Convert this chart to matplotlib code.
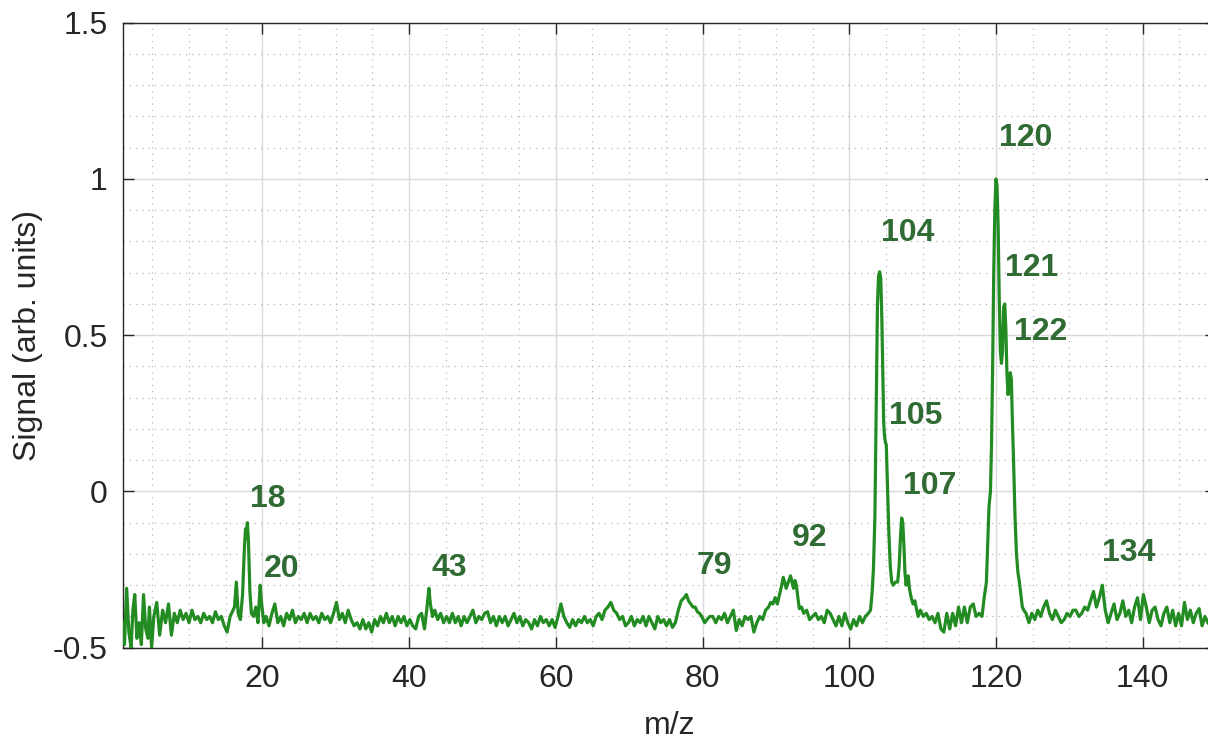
import numpy as np
import matplotlib
matplotlib.use("Agg")
import matplotlib.pyplot as plt
from matplotlib.ticker import MultipleLocator, FixedLocator

plt.rcParams['font.family'] = ['Liberation Sans', 'DejaVu Sans']

# ---------------- data ----------------
# start of trace (strong ringing)
mz_start = [1.0, 1.2, 1.5, 1.8, 2.1, 2.35, 2.6, 2.9, 3.2, 3.5, 3.8, 4.1, 4.4, 4.6, 4.9]
sig_start = [-0.42, -0.49, -0.31, -0.45, -0.50, -0.38, -0.33, -0.47, -0.42, -0.49,
             -0.33, -0.44, -0.47, -0.37, -0.50]

# baseline 5.2 .. 16.0, step 0.4
base_a_start = 5.2
base_a = [-0.40, -0.355, -0.46, -0.38, -0.42, -0.36, -0.46, -0.39, -0.42, -0.38,
          -0.41, -0.39, -0.42, -0.38, -0.41, -0.40, -0.42, -0.39, -0.41, -0.40,
          -0.42, -0.385, -0.41, -0.40, -0.43, -0.45, -0.40, -0.38]

# peaks 18 / 20
mz_p18 = [16.2, 16.45, 16.7, 17.0, 17.3, 17.55, 17.7, 17.8, 17.95, 18.1, 18.3, 18.5,
          18.8, 19.1, 19.4, 19.7, 19.9, 20.2]
sig_p18 = [-0.37, -0.29, -0.39, -0.41, -0.33, -0.18, -0.12, -0.15, -0.10, -0.16, -0.32,
           -0.39, -0.40, -0.37, -0.42, -0.30, -0.36, -0.42]

# baseline 20.5 .. 42.1, step 0.4
base_b_start = 20.5
base_b = [-0.40, -0.43, -0.39, -0.36, -0.42, -0.40, -0.43, -0.39, -0.41, -0.38,
          -0.42, -0.40, -0.41, -0.39, -0.42, -0.39, -0.41, -0.40, -0.42, -0.39,
          -0.41, -0.40, -0.42, -0.39, -0.355, -0.41, -0.39, -0.42, -0.38, -0.41,
          -0.43, -0.42, -0.44, -0.41, -0.44, -0.42, -0.45, -0.41, -0.43, -0.40,
          -0.42, -0.39, -0.42, -0.40, -0.43, -0.40, -0.42, -0.40, -0.43, -0.41,
          -0.43, -0.44, -0.40, -0.39, -0.44]

# peak 43
mz_p43 = [42.4, 42.7, 42.9, 43.2]
sig_p43 = [-0.38, -0.31, -0.36, -0.40]

# baseline 43.5 .. 76.7, step 0.4
base_c_start = 43.5
base_c = [-0.38, -0.41, -0.39, -0.42, -0.40, -0.42, -0.39, -0.42, -0.40, -0.43,
          -0.40, -0.42, -0.40, -0.38, -0.42, -0.40, -0.41, -0.39, -0.385, -0.42,
          -0.40, -0.43, -0.40, -0.42, -0.40, -0.43, -0.41, -0.39, -0.42, -0.40,
          -0.43, -0.41, -0.42, -0.44, -0.41, -0.43, -0.40, -0.42, -0.41, -0.43,
          -0.41, -0.435, -0.40, -0.36, -0.40, -0.42, -0.435, -0.41, -0.43, -0.41,
          -0.42, -0.40, -0.42, -0.41, -0.43, -0.40, -0.39, -0.41, -0.38, -0.37,
          -0.355, -0.38, -0.39, -0.41, -0.40, -0.43, -0.42, -0.40, -0.43, -0.41,
          -0.42, -0.40, -0.43, -0.40, -0.42, -0.44, -0.40, -0.42, -0.41, -0.43,
          -0.41, -0.435, -0.42, -0.38]

# peak 79
mz_p79 = [77.1, 77.5, 77.8, 78.1, 78.4, 78.7, 79.0, 79.3, 79.6, 79.9, 80.3]
sig_p79 = [-0.35, -0.34, -0.33, -0.35, -0.36, -0.37, -0.37, -0.385, -0.39, -0.40, -0.42]

# baseline 80.6 .. 88.6, step 0.4
base_d_start = 80.6
base_d = [-0.41, -0.40, -0.40, -0.42, -0.40, -0.41, -0.39, -0.42, -0.40, -0.38,
          -0.445, -0.41, -0.43, -0.40, -0.41, -0.40, -0.45, -0.42, -0.40, -0.41, -0.38]

# peak 92
mz_p92 = [89.0, 89.3, 89.6, 89.9, 90.2, 90.5, 90.8, 91.0, 91.2, 91.4, 91.7, 92.0,
          92.2, 92.4, 92.6, 92.8, 93.0, 93.2, 93.5]
sig_p92 = [-0.37, -0.355, -0.36, -0.34, -0.36, -0.33, -0.30, -0.275, -0.29, -0.31,
           -0.29, -0.27, -0.29, -0.31, -0.285, -0.30, -0.34, -0.375, -0.37]

# baseline 93.8 .. 102.6, step 0.4
base_e_start = 93.8
base_e = [-0.39, -0.38, -0.41, -0.40, -0.39, -0.41, -0.40, -0.42, -0.38, -0.39,
          -0.41, -0.43, -0.40, -0.43, -0.39, -0.42, -0.44, -0.41, -0.43, -0.40,
          -0.42, -0.40, -0.39]

# peaks 104 / 105 / 107
mz_p104 = [102.9, 103.1, 103.3, 103.5, 103.7, 103.85, 104.0, 104.15, 104.3, 104.45,
           104.6, 104.7, 104.8, 104.95, 105.05, 105.2, 105.4, 105.6, 105.8, 106.0,
           106.3, 106.6, 106.8, 107.0, 107.15, 107.3, 107.45, 107.6, 107.75, 107.9,
           108.05, 108.2, 108.45, 108.7, 108.95, 109.2, 109.4]
sig_p104 = [-0.38, -0.33, -0.25, -0.08, 0.30, 0.60, 0.69, 0.703, 0.68, 0.55,
            0.35, 0.22, 0.18, 0.155, 0.15, 0.03, -0.13, -0.24, -0.29, -0.30,
            -0.29, -0.29, -0.24, -0.14, -0.085, -0.10, -0.17, -0.26, -0.30, -0.28,
            -0.27, -0.31, -0.34, -0.36, -0.35, -0.38, -0.40]

# baseline 109.7 .. 118.1, step 0.4
base_f_start = 109.7
base_f = [-0.38, -0.40, -0.39, -0.41, -0.40, -0.42, -0.39, -0.44, -0.45, -0.39,
          -0.44, -0.39, -0.43, -0.37, -0.42, -0.37, -0.42, -0.37, -0.36, -0.40,
          -0.39, -0.40]

# peaks 120 / 121 / 122
mz_p120 = [118.4, 118.7, 118.9, 119.05, 119.25, 119.4, 119.55, 119.7, 119.85, 120.0,
           120.15, 120.3, 120.45, 120.6, 120.75, 120.9, 121.05, 121.2, 121.35, 121.5,
           121.65, 121.8, 121.95, 122.1, 122.25, 122.4, 122.6, 122.8, 123.0, 123.2,
           123.4, 123.6, 123.8]
sig_p120 = [-0.34, -0.29, -0.15, -0.05, 0.0, 0.15, 0.40, 0.70, 0.90, 1.0,
            0.98, 0.85, 0.62, 0.45, 0.41, 0.45, 0.59, 0.60, 0.52, 0.38,
            0.31, 0.34, 0.38, 0.36, 0.22, 0.10, -0.08, -0.20, -0.26, -0.29,
            -0.33, -0.37, -0.38]

# baseline 124.1 .. 148.9, step 0.4 (includes peak 134)
base_g_start = 124.1
base_g = [-0.39, -0.42, -0.39, -0.41, -0.38, -0.40, -0.37, -0.35, -0.39, -0.41,
          -0.38, -0.40, -0.42, -0.41, -0.39, -0.40, -0.38, -0.38, -0.40, -0.39,
          -0.37, -0.38, -0.35, -0.32, -0.37, -0.34, -0.30, -0.38, -0.42, -0.39,
          -0.36, -0.41, -0.39, -0.35, -0.40, -0.38, -0.42, -0.37, -0.34, -0.41,
          -0.33, -0.37, -0.42, -0.38, -0.37, -0.41, -0.43, -0.39, -0.37, -0.42,
          -0.38, -0.43, -0.39, -0.43, -0.355, -0.41, -0.38, -0.42, -0.39, -0.375,
          -0.43, -0.40, -0.42]

# peak labels
label_text = ['18', '20', '43', '79', '92', '104', '105', '107', '120', '121', '122', '134']
label_x = [18.27, 20.18, 43.08, 79.21, 92.16, 104.39, 105.39, 107.3, 120.38, 121.29, 122.43, 134.42]
label_y = [-0.050, -0.274, -0.271, -0.264, -0.175, 0.801, 0.216, -0.008, 1.105, 0.689, 0.485, -0.223]

x_ticks = [20, 40, 60, 80, 100, 120, 140]
y_ticks = [-0.5, 0, 0.5, 1, 1.5]
y_tick_labels = ['-0.5', '0', '0.5', '1', '1.5']

# ---------------- assemble trace ----------------
def base(start, vals, step=0.4):
    return list(start + step * np.arange(len(vals))), list(vals)

parts = [
    (mz_start, sig_start),
    base(base_a_start, base_a),
    (mz_p18, sig_p18),
    base(base_b_start, base_b),
    (mz_p43, sig_p43),
    base(base_c_start, base_c),
    (mz_p79, sig_p79),
    base(base_d_start, base_d),
    (mz_p92, sig_p92),
    base(base_e_start, base_e),
    (mz_p104, sig_p104),
    base(base_f_start, base_f),
    (mz_p120, sig_p120),
    base(base_g_start, base_g),
]
mz = np.concatenate([np.asarray(p[0], float) for p in parts])
sig = np.concatenate([np.asarray(p[1], float) for p in parts])

# ---------------- figure ----------------
W, H = 1208, 742
fig = plt.figure(figsize=(W / 100, H / 100), dpi=100)
left_px, right_px, top_px, bot_px = 123, 1216, 22.7, 647.7
ax = fig.add_axes([left_px / W, 1 - bot_px / H, (right_px - left_px) / W, (bot_px - top_px) / H])

ax.plot(mz, sig, color='#228B22', lw=2.3, zorder=3, clip_on=True)

ax.set_xlim(1, 150)
ax.set_ylim(-0.5, 1.5)
ax.xaxis.set_major_locator(FixedLocator(x_ticks))
ax.yaxis.set_major_locator(FixedLocator(y_ticks))
ax.set_yticklabels(y_tick_labels)
ax.xaxis.set_minor_locator(MultipleLocator(5))
ax.yaxis.set_minor_locator(MultipleLocator(0.1))

ax.grid(which='major', color='#dadada', lw=1.0, ls='-', zorder=0)
ax.grid(which='minor', color='#b8b8b8', lw=0.9, ls=(0, (1, 4)), zorder=0)
ax.set_axisbelow(True)

ax.tick_params(which='major', direction='in', length=8, width=1.0, color='#262626',
               labelsize=23, labelcolor='#262626', top=True, right=True)
ax.tick_params(axis='x', which='major', pad=12)
ax.tick_params(axis='y', which='major', pad=11)
ax.tick_params(which='minor', length=0)
for s in ax.spines.values():
    s.set_color('#262626')
    s.set_linewidth(1.0)

ax.set_xlabel('m/z', fontsize=23, color='#262626', labelpad=12)
ax.set_ylabel('Signal (arb. units)', fontsize=23, color='#262626', labelpad=7)

for t, x, y in zip(label_text, label_x, label_y):
    ax.text(x, y, t, fontsize=23, fontweight='bold', color='#306b34',
            ha='left', va='baseline', zorder=4)

fig.savefig('out.png', dpi=100)
